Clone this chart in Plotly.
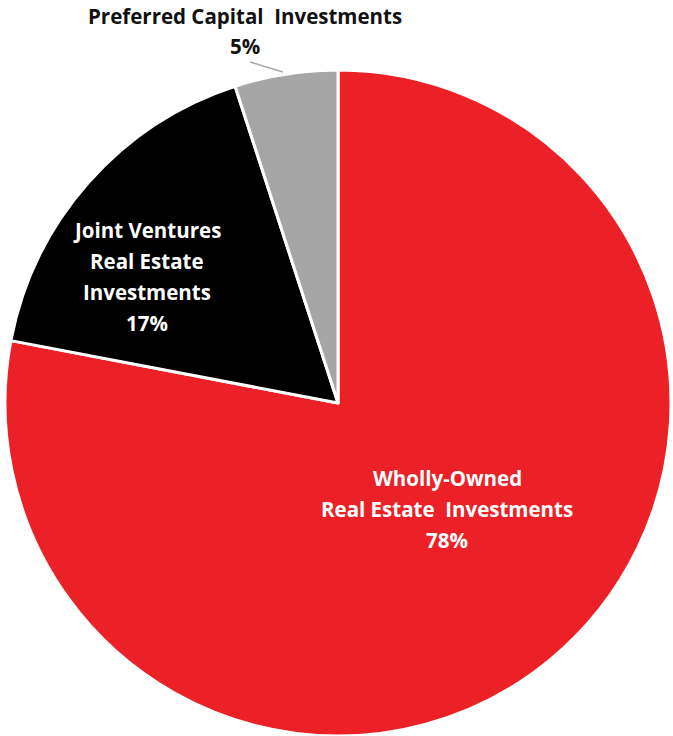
import plotly.graph_objects as go

categories = ["Wholly-Owned Real Estate Investments",
              "Joint Ventures Real Estate Investments",
              "Preferred Capital Investments"]
values = [78, 17, 5]
colors = ["#EC2127", "#000000", "#A6A6A6"]

W, H = 673, 736
cx, cy, r = 338, 403, 333

fig = go.Figure(go.Pie(
    labels=categories, values=values, sort=False, direction="clockwise",
    rotation=0, textinfo="none", hoverinfo="label+percent",
    marker=dict(colors=colors, line=dict(color="white", width=3)),
    domain=dict(x=[(cx - r) / W, (cx + r) / W], y=[(H - cy - r) / H, (H - cy + r) / H]),
    showlegend=False,
))

def add_lines(lines, x, y0, dy, color):
    for i, t in enumerate(lines):
        fig.add_annotation(x=x / W, y=1 - (y0 + i * dy) / H, xref="paper", yref="paper",
                           text="<b>" + t + "</b>", showarrow=False,
                           font=dict(family="Open Sans", size=20.5, color=color),
                           xanchor="center", yanchor="middle")

add_lines(["Wholly-Owned", "Real Estate  Investments", f"{values[0]}%"], 447, 478, 31, "white")
add_lines(["Joint Ventures", "Real Estate", "Investments", f"{values[1]}%"], 147, 230, 31, "white")
add_lines(["Preferred Capital  Investments", f"{values[2]}%"], 245, 16, 30, "#111111")

fig.add_shape(type="line", xref="paper", yref="paper",
              x0=250 / W, y0=1 - 62 / H, x1=283 / W, y1=1 - 72 / H,
              line=dict(color="#A6A6A6", width=1.5))

fig.update_layout(width=W, height=H, margin=dict(l=0, r=0, t=0, b=0),
                  paper_bgcolor="white", plot_bgcolor="white")
fig.write_html("out.html")
